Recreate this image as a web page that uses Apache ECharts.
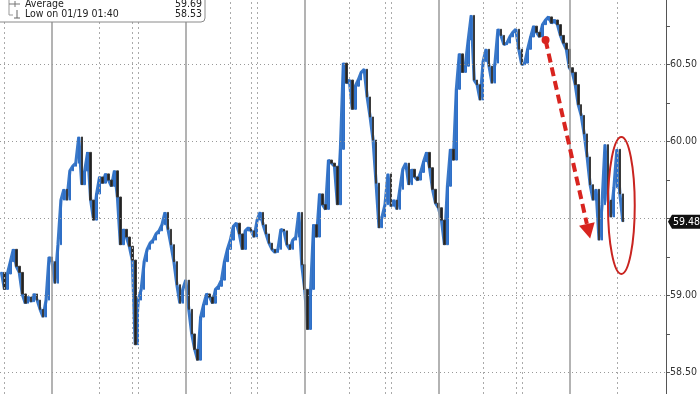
<!DOCTYPE html>
<html><head><meta charset="utf-8">
<script src="https://cdn.jsdelivr.net/npm/echarts@6/dist/echarts.min.js"></script>
<style>html,body{margin:0;padding:0;background:#fff}#c{width:700px;height:394px}</style>
</head><body><div id="c"></div>
<script>
// ---- data ----
const price = [
59.15,59.04,59.14,59.22,59.30,59.19,59.15,59.01,58.95,58.99,
58.96,59.01,58.97,58.91,58.86,58.97,59.25,59.22,59.08,59.33,
59.62,59.69,59.62,59.81,59.84,59.86,60.03,59.72,59.81,59.93,
59.62,59.49,59.66,59.77,59.73,59.79,59.75,59.71,59.81,59.64,
59.33,59.43,59.38,59.32,59.23,58.68,58.97,59.04,59.22,59.30,
59.34,59.36,59.40,59.42,59.46,59.54,59.43,59.33,59.22,59.07,
58.95,59.04,59.10,58.91,58.75,58.65,58.58,58.86,58.94,59.01,
58.99,58.95,59.04,59.06,59.10,59.22,59.30,59.36,59.45,59.47,
59.40,59.30,59.42,59.44,59.42,59.38,59.49,59.54,59.46,59.40,
59.34,59.30,59.28,59.30,59.43,59.42,59.33,59.30,59.36,59.38,
59.54,59.20,59.04,58.78,59.04,59.46,59.38,59.66,59.59,59.56,
59.88,59.86,59.84,59.59,59.95,60.51,60.38,60.40,60.21,60.36,
60.40,60.45,60.47,60.29,60.16,60.01,59.73,59.44,59.51,59.59,
59.79,59.58,59.62,59.56,59.69,59.82,59.86,59.72,59.82,59.77,
59.75,59.80,59.87,59.93,59.83,59.69,59.60,59.57,59.49,59.33,
59.71,59.95,59.88,60.34,60.57,60.45,60.49,60.66,60.82,60.40,
60.37,60.27,60.52,60.60,60.49,60.38,60.51,60.73,60.69,60.63,
60.64,60.68,60.71,60.73,60.60,60.50,60.51,60.60,60.68,60.75,
60.71,60.68,60.76,60.79,60.81,60.77,60.79,60.76,60.69,60.64,
60.60,60.48,60.45,60.37,60.24,60.17,60.05,59.90,59.72,59.62,
59.69,59.36,59.59,59.98,59.62,59.51,59.70,59.95,59.66,59.48
];
const slotCount = 224;                       // time slots on the x axis
const yTickValues = [58.5,58.75,59,59.25,59.5,59.75,60,60.25,60.5,60.75];
const yLabelValues = [58.5,59,60,60.5];
const hGridValues = [58.5,59,59.5,60,60.5];
const vSessionLines = [17,62,102,147,191];
const vDottedLines = [1,33,44,46,77,84,86,117,129,131,162,173,175,207];
const lastPrice = 59.48;
const legendRows = [['Average','59.69'],['Low on 01/19 01:40','58.53']];
const arrowFrom = [183, 60.66];
const arrowTo = [198, 59.37];
const ringBox = {left:204, right:213, top:60.03, bottom:59.14};
const yMin = 58.36, yMax = 60.92;

// ---- chart ----
const chart = echarts.init(document.getElementById('c'), null, {renderer:'canvas'});
const cats = Array.from({length: slotCount}, (_, i) => i);
const candles = price.map((p, i) => {
  const o = i > 0 ? price[i-1] : p;
  return [o, p, Math.min(o,p), Math.max(o,p)];
});
const FONT = "'Liberation Sans Narrow','DejaVu Sans Condensed','Liberation Sans',sans-serif";

chart.setOption({
  animation:false,
  backgroundColor:'#fff',
  grid:{left:0,right:28,top:0,bottom:0,containLabel:false},
  xAxis:{type:'category',data:cats,boundaryGap:true,
    axisLine:{show:false},axisTick:{show:false},axisLabel:{show:false},splitLine:{show:false}},
  yAxis:{type:'value',position:'right',min:yMin,max:yMax,scale:true,
    axisLine:{show:true,lineStyle:{color:'#555',width:1}},
    axisTick:{show:true,inside:false,length:4,lineStyle:{color:'#555'},customValues:yTickValues},
    axisLabel:{show:true,margin:4,color:'#333',fontSize:10.5,fontFamily:FONT,
      customValues:yLabelValues,formatter:v=>v.toFixed(2)},
    splitLine:{show:false}},
  series:[
    {type:'line',data:[],silent:true,z:1,
      markLine:{silent:true,symbol:'none',animation:false,label:{show:false},
        data:[
          ...hGridValues.map(v=>({yAxis:v,lineStyle:{color:'#999',width:1,type:[1,3]}})),
          ...vDottedLines.map(v=>({xAxis:v,lineStyle:{color:'#aaa',width:1,type:[2,3]}})),
          ...vSessionLines.map(v=>({xAxis:v,lineStyle:{color:'#9a9a9a',width:1.5,type:'solid'}}))
        ]}},
    {type:'line',data:price,z:3,symbol:'none',silent:true,
      lineStyle:{color:'#3a78c8',width:3.2}},
    {type:'candlestick',data:candles,z:4,barWidth:2,silent:true,
      itemStyle:{color:'#3576cc',color0:'#222',borderColor:'#2f6fc6',borderColor0:'#3a3a3a',borderWidth:1}}
  ]
});

// ---- annotations (placed in data coordinates) ----
const px = v => chart.convertToPixel({gridIndex:0}, v);
const a0 = px(arrowFrom), a1 = px(arrowTo);
const ang = Math.atan2(a1[1]-a0[1], a1[0]-a0[0]);
const headLen = 15, headW = 8;
const baseX = a1[0]-headLen*Math.cos(ang), baseY = a1[1]-headLen*Math.sin(ang);
const nx = -Math.sin(ang), ny = Math.cos(ang);
const rTL = px([ringBox.left, ringBox.top]), rBR = px([ringBox.right, ringBox.bottom]);
const RED = '#d8241f';
const lastY = px([0, lastPrice])[1];
const axisX = px([slotCount-1, lastPrice])[0] + 1.5;

const graphics = [
  {type:'line',z:100,shape:{x1:a0[0],y1:a0[1],x2:baseX,y2:baseY},
    style:{stroke:RED,lineWidth:4,lineDash:[9,5]}},
  {type:'circle',z:100,shape:{cx:a0[0],cy:a0[1],r:4},style:{fill:RED}},
  {type:'polygon',z:100,shape:{points:[[a1[0],a1[1]],[baseX+nx*headW,baseY+ny*headW],[baseX-nx*headW,baseY-ny*headW]]},
    style:{fill:RED}},
  {type:'ellipse',z:100,shape:{cx:(rTL[0]+rBR[0])/2,cy:(rTL[1]+rBR[1])/2,rx:(rBR[0]-rTL[0])/2,ry:(rBR[1]-rTL[1])/2},
    style:{fill:null,stroke:'#c92420',lineWidth:2}},
  // last-price tag on the axis
  {type:'polygon',z:150,shape:{points:[[axisX+2,lastY],[axisX+6,lastY-7],[700,lastY-7],[700,lastY+7],[axisX+6,lastY+7]]},
    style:{fill:'#111'}},
  {type:'text',z:151,style:{x:axisX+7,y:lastY+0.5,text:lastPrice.toFixed(2),fill:'#fff',font:"10.5px "+FONT,textVerticalAlign:'middle',textAlign:'left'}},
  // legend box
  {type:'rect',z:200,shape:{x:-4,y:-4,width:209,height:26,r:4},style:{fill:'#fff',stroke:'#8a8a8a',lineWidth:1}},
  {type:'line',z:201,shape:{x1:9,y1:-2,x2:9,y2:15},style:{stroke:'#999',lineWidth:1}},
  {type:'line',z:201,shape:{x1:9,y1:4,x2:20,y2:4},style:{stroke:'#777',lineWidth:1}},
  {type:'line',z:201,shape:{x1:15,y1:1,x2:15,y2:7},style:{stroke:'#777',lineWidth:1}},
  {type:'line',z:201,shape:{x1:9,y1:15,x2:13,y2:15},style:{stroke:'#999',lineWidth:1}},
  {type:'line',z:201,shape:{x1:17,y1:10,x2:17,y2:18},style:{stroke:'#666',lineWidth:1}},
  {type:'line',z:201,shape:{x1:14,y1:18,x2:20,y2:18},style:{stroke:'#666',lineWidth:1}}
];
legendRows.forEach((r, i) => {
  const y = 4 + i*10;
  graphics.push({type:'text',z:202,style:{x:25,y:y,text:r[0],fill:'#222',font:"10.5px "+FONT,textVerticalAlign:'middle',textAlign:'left'}});
  graphics.push({type:'text',z:202,style:{x:202,y:y,text:r[1],fill:'#222',font:"10.5px "+FONT,textVerticalAlign:'middle',textAlign:'right'}});
});
chart.setOption({graphic:graphics});
</script></body></html>
